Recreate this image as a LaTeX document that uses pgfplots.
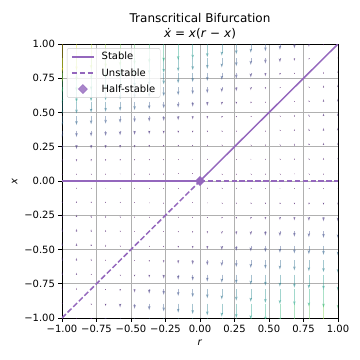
\documentclass[border=0pt]{standalone}
\usepackage{fontspec}
\setmainfont{DejaVu Sans}
\usepackage{pgfplots}
\usepackage{pgfplotstable}
\pgfplotsset{compat=1.18}
\usetikzlibrary{arrows.meta}
\definecolor{tabpurple}{HTML}{9467BD}
\definecolor{gridc}{HTML}{B0B0B0}
\definecolor{legedge}{HTML}{CCCCCC}
\pgfplotsset{
  lineleg/.style={legend image code/.code={\path (-1pt,0pt) (27pt,0pt); \draw[##1] (0pt,0pt) -- (22pt,0pt);}},
  markleg/.style={legend image code/.code={\path (-1pt,0pt) (27pt,0pt); \draw[##1] plot coordinates {(11pt,0pt)};}},
}
% quiver field of xdot = x(r-x) on a 20x20 grid; w is xdot scaled by 361/2
\pgfplotstableread[row sep=\\]{
r xv w\\
-0.895 -1 -19\\ -0.789 -1 -38\\ -0.684 -1 -57\\ -0.579 -1 -76\\ -0.474 -1 -95\\ -0.368 -1 -114\\ -0.263 -1 -133\\ -0.158 -1 -152\\ -0.053 -1 -171\\ 0.053 -1 -190\\ 0.158 -1 -209\\ 0.263 -1 -228\\ 0.368 -1 -247\\ 0.474 -1 -266\\ 0.579 -1 -285\\ 0.684 -1 -304\\ 0.789 -1 -323\\ 0.895 -1 -342\\ 1 -1 -361\\
-1 -0.895 17\\ -0.789 -0.895 -17\\ -0.684 -0.895 -34\\ -0.579 -0.895 -51\\ -0.474 -0.895 -68\\ -0.368 -0.895 -85\\ -0.263 -0.895 -102\\ -0.158 -0.895 -119\\ -0.053 -0.895 -136\\ 0.053 -0.895 -153\\ 0.158 -0.895 -170\\ 0.263 -0.895 -187\\ 0.368 -0.895 -204\\ 0.474 -0.895 -221\\ 0.579 -0.895 -238\\ 0.684 -0.895 -255\\ 0.789 -0.895 -272\\ 0.895 -0.895 -289\\ 1 -0.895 -306\\
-1 -0.789 30\\ -0.895 -0.789 15\\ -0.684 -0.789 -15\\ -0.579 -0.789 -30\\ -0.474 -0.789 -45\\ -0.368 -0.789 -60\\ -0.263 -0.789 -75\\ -0.158 -0.789 -90\\ -0.053 -0.789 -105\\ 0.053 -0.789 -120\\ 0.158 -0.789 -135\\ 0.263 -0.789 -150\\ 0.368 -0.789 -165\\ 0.474 -0.789 -180\\ 0.579 -0.789 -195\\ 0.684 -0.789 -210\\ 0.789 -0.789 -225\\ 0.895 -0.789 -240\\ 1 -0.789 -255\\
-1 -0.684 39\\ -0.895 -0.684 26\\ -0.789 -0.684 13\\ -0.579 -0.684 -13\\ -0.474 -0.684 -26\\ -0.368 -0.684 -39\\ -0.263 -0.684 -52\\ -0.158 -0.684 -65\\ -0.053 -0.684 -78\\ 0.053 -0.684 -91\\ 0.158 -0.684 -104\\ 0.263 -0.684 -117\\ 0.368 -0.684 -130\\ 0.474 -0.684 -143\\ 0.579 -0.684 -156\\ 0.684 -0.684 -169\\ 0.789 -0.684 -182\\ 0.895 -0.684 -195\\ 1 -0.684 -208\\
-1 -0.579 44\\ -0.895 -0.579 33\\ -0.789 -0.579 22\\ -0.684 -0.579 11\\ -0.474 -0.579 -11\\ -0.368 -0.579 -22\\ -0.263 -0.579 -33\\ -0.158 -0.579 -44\\ -0.053 -0.579 -55\\ 0.053 -0.579 -66\\ 0.158 -0.579 -77\\ 0.263 -0.579 -88\\ 0.368 -0.579 -99\\ 0.474 -0.579 -110\\ 0.579 -0.579 -121\\ 0.684 -0.579 -132\\ 0.789 -0.579 -143\\ 0.895 -0.579 -154\\ 1 -0.579 -165\\
-1 -0.474 45\\ -0.895 -0.474 36\\ -0.789 -0.474 27\\ -0.684 -0.474 18\\ -0.579 -0.474 9\\ -0.368 -0.474 -9\\ -0.263 -0.474 -18\\ -0.158 -0.474 -27\\ -0.053 -0.474 -36\\ 0.053 -0.474 -45\\ 0.158 -0.474 -54\\ 0.263 -0.474 -63\\ 0.368 -0.474 -72\\ 0.474 -0.474 -81\\ 0.579 -0.474 -90\\ 0.684 -0.474 -99\\ 0.789 -0.474 -108\\ 0.895 -0.474 -117\\ 1 -0.474 -126\\
-1 -0.368 42\\ -0.895 -0.368 35\\ -0.789 -0.368 28\\ -0.684 -0.368 21\\ -0.579 -0.368 14\\ -0.474 -0.368 7\\ -0.263 -0.368 -7\\ -0.158 -0.368 -14\\ -0.053 -0.368 -21\\ 0.053 -0.368 -28\\ 0.158 -0.368 -35\\ 0.263 -0.368 -42\\ 0.368 -0.368 -49\\ 0.474 -0.368 -56\\ 0.579 -0.368 -63\\ 0.684 -0.368 -70\\ 0.789 -0.368 -77\\ 0.895 -0.368 -84\\ 1 -0.368 -91\\
-1 -0.263 35\\ -0.895 -0.263 30\\ -0.789 -0.263 25\\ -0.684 -0.263 20\\ -0.579 -0.263 15\\ -0.474 -0.263 10\\ -0.368 -0.263 5\\ -0.158 -0.263 -5\\ -0.053 -0.263 -10\\ 0.053 -0.263 -15\\ 0.158 -0.263 -20\\ 0.263 -0.263 -25\\ 0.368 -0.263 -30\\ 0.474 -0.263 -35\\ 0.579 -0.263 -40\\ 0.684 -0.263 -45\\ 0.789 -0.263 -50\\ 0.895 -0.263 -55\\ 1 -0.263 -60\\
-1 -0.158 24\\ -0.895 -0.158 21\\ -0.789 -0.158 18\\ -0.684 -0.158 15\\ -0.579 -0.158 12\\ -0.474 -0.158 9\\ -0.368 -0.158 6\\ -0.263 -0.158 3\\ -0.053 -0.158 -3\\ 0.053 -0.158 -6\\ 0.158 -0.158 -9\\ 0.263 -0.158 -12\\ 0.368 -0.158 -15\\ 0.474 -0.158 -18\\ 0.579 -0.158 -21\\ 0.684 -0.158 -24\\ 0.789 -0.158 -27\\ 0.895 -0.158 -30\\ 1 -0.158 -33\\
-1 -0.053 9\\ -0.895 -0.053 8\\ -0.789 -0.053 7\\ -0.684 -0.053 6\\ -0.579 -0.053 5\\ -0.474 -0.053 4\\ -0.368 -0.053 3\\ -0.263 -0.053 2\\ -0.158 -0.053 1\\ 0.053 -0.053 -1\\ 0.158 -0.053 -2\\ 0.263 -0.053 -3\\ 0.368 -0.053 -4\\ 0.474 -0.053 -5\\ 0.579 -0.053 -6\\ 0.684 -0.053 -7\\ 0.789 -0.053 -8\\ 0.895 -0.053 -9\\ 1 -0.053 -10\\
-1 0.053 -10\\ -0.895 0.053 -9\\ -0.789 0.053 -8\\ -0.684 0.053 -7\\ -0.579 0.053 -6\\ -0.474 0.053 -5\\ -0.368 0.053 -4\\ -0.263 0.053 -3\\ -0.158 0.053 -2\\ -0.053 0.053 -1\\ 0.158 0.053 1\\ 0.263 0.053 2\\ 0.368 0.053 3\\ 0.474 0.053 4\\ 0.579 0.053 5\\ 0.684 0.053 6\\ 0.789 0.053 7\\ 0.895 0.053 8\\ 1 0.053 9\\
-1 0.158 -33\\ -0.895 0.158 -30\\ -0.789 0.158 -27\\ -0.684 0.158 -24\\ -0.579 0.158 -21\\ -0.474 0.158 -18\\ -0.368 0.158 -15\\ -0.263 0.158 -12\\ -0.158 0.158 -9\\ -0.053 0.158 -6\\ 0.053 0.158 -3\\ 0.263 0.158 3\\ 0.368 0.158 6\\ 0.474 0.158 9\\ 0.579 0.158 12\\ 0.684 0.158 15\\ 0.789 0.158 18\\ 0.895 0.158 21\\ 1 0.158 24\\
-1 0.263 -60\\ -0.895 0.263 -55\\ -0.789 0.263 -50\\ -0.684 0.263 -45\\ -0.579 0.263 -40\\ -0.474 0.263 -35\\ -0.368 0.263 -30\\ -0.263 0.263 -25\\ -0.158 0.263 -20\\ -0.053 0.263 -15\\ 0.053 0.263 -10\\ 0.158 0.263 -5\\ 0.368 0.263 5\\ 0.474 0.263 10\\ 0.579 0.263 15\\ 0.684 0.263 20\\ 0.789 0.263 25\\ 0.895 0.263 30\\ 1 0.263 35\\
-1 0.368 -91\\ -0.895 0.368 -84\\ -0.789 0.368 -77\\ -0.684 0.368 -70\\ -0.579 0.368 -63\\ -0.474 0.368 -56\\ -0.368 0.368 -49\\ -0.263 0.368 -42\\ -0.158 0.368 -35\\ -0.053 0.368 -28\\ 0.053 0.368 -21\\ 0.158 0.368 -14\\ 0.263 0.368 -7\\ 0.474 0.368 7\\ 0.579 0.368 14\\ 0.684 0.368 21\\ 0.789 0.368 28\\ 0.895 0.368 35\\ 1 0.368 42\\
-1 0.474 -126\\ -0.895 0.474 -117\\ -0.789 0.474 -108\\ -0.684 0.474 -99\\ -0.579 0.474 -90\\ -0.474 0.474 -81\\ -0.368 0.474 -72\\ -0.263 0.474 -63\\ -0.158 0.474 -54\\ -0.053 0.474 -45\\ 0.053 0.474 -36\\ 0.158 0.474 -27\\ 0.263 0.474 -18\\ 0.368 0.474 -9\\ 0.579 0.474 9\\ 0.684 0.474 18\\ 0.789 0.474 27\\ 0.895 0.474 36\\ 1 0.474 45\\
-1 0.579 -165\\ -0.895 0.579 -154\\ -0.789 0.579 -143\\ -0.684 0.579 -132\\ -0.579 0.579 -121\\ -0.474 0.579 -110\\ -0.368 0.579 -99\\ -0.263 0.579 -88\\ -0.158 0.579 -77\\ -0.053 0.579 -66\\ 0.053 0.579 -55\\ 0.158 0.579 -44\\ 0.263 0.579 -33\\ 0.368 0.579 -22\\ 0.474 0.579 -11\\ 0.684 0.579 11\\ 0.789 0.579 22\\ 0.895 0.579 33\\ 1 0.579 44\\
-1 0.684 -208\\ -0.895 0.684 -195\\ -0.789 0.684 -182\\ -0.684 0.684 -169\\ -0.579 0.684 -156\\ -0.474 0.684 -143\\ -0.368 0.684 -130\\ -0.263 0.684 -117\\ -0.158 0.684 -104\\ -0.053 0.684 -91\\ 0.053 0.684 -78\\ 0.158 0.684 -65\\ 0.263 0.684 -52\\ 0.368 0.684 -39\\ 0.474 0.684 -26\\ 0.579 0.684 -13\\ 0.789 0.684 13\\ 0.895 0.684 26\\ 1 0.684 39\\
-1 0.789 -255\\ -0.895 0.789 -240\\ -0.789 0.789 -225\\ -0.684 0.789 -210\\ -0.579 0.789 -195\\ -0.474 0.789 -180\\ -0.368 0.789 -165\\ -0.263 0.789 -150\\ -0.158 0.789 -135\\ -0.053 0.789 -120\\ 0.053 0.789 -105\\ 0.158 0.789 -90\\ 0.263 0.789 -75\\ 0.368 0.789 -60\\ 0.474 0.789 -45\\ 0.579 0.789 -30\\ 0.684 0.789 -15\\ 0.895 0.789 15\\ 1 0.789 30\\
-1 0.895 -306\\ -0.895 0.895 -289\\ -0.789 0.895 -272\\ -0.684 0.895 -255\\ -0.579 0.895 -238\\ -0.474 0.895 -221\\ -0.368 0.895 -204\\ -0.263 0.895 -187\\ -0.158 0.895 -170\\ -0.053 0.895 -153\\ 0.053 0.895 -136\\ 0.158 0.895 -119\\ 0.263 0.895 -102\\ 0.368 0.895 -85\\ 0.474 0.895 -68\\ 0.579 0.895 -51\\ 0.684 0.895 -34\\ 0.789 0.895 -17\\ 1 0.895 17\\
-1 1 -361\\ -0.895 1 -342\\ -0.789 1 -323\\ -0.684 1 -304\\ -0.579 1 -285\\ -0.474 1 -266\\ -0.368 1 -247\\ -0.263 1 -228\\ -0.158 1 -209\\ -0.053 1 -190\\ 0.053 1 -171\\ 0.158 1 -152\\ 0.263 1 -133\\ 0.368 1 -114\\ 0.474 1 -95\\ 0.579 1 -76\\ 0.684 1 -57\\ 0.789 1 -38\\ 0.895 1 -19\\
}\quiverdata
\begin{document}
\begin{tikzpicture}
\useasboundingbox (-62pt,-42pt) rectangle (298pt,318pt);
\begin{axis}[
  at={(0pt,0pt)}, anchor=south west,
  scale only axis, width=276pt, height=274pt,
  xmin=-1, xmax=1, ymin=-1, ymax=1,
  xtick={-1,-0.75,-0.5,-0.25,0,0.25,0.5,0.75,1},
  ytick={-1,-0.75,-0.5,-0.25,0,0.25,0.5,0.75,1},
  xticklabels={−1.00,−0.75,−0.50,−0.25,0.00,0.25,0.50,0.75,1.00},
  yticklabels={−1.00,−0.75,−0.50,−0.25,0.00,0.25,0.50,0.75,1.00},
  tick align=outside, tick pos=left, major tick length=3.5pt,
  every tick/.style={black, line width=0.8pt},
  axis line style={line width=0.8pt},
  grid=major, grid style={gridc, line width=0.8pt},
  xlabel={\textit{r}}, ylabel={\textit{x}},
  title={Transcritical Bifurcation\\\textit{ẋ} = \textit{x}(\textit{r} − \textit{x})},
  title style={align=center, font=\fontsize{12}{15}\selectfont, yshift=-5pt},
  colormap/viridis, point meta min=0, point meta max=361,
  legend style={at={(0.018,0.985)}, anchor=north west, draw=legedge, fill=white,
    fill opacity=0.8, text opacity=1, rounded corners=2pt, row sep=3pt,
    font=\fontsize{10}{12}\selectfont},
  legend cell align=left,
]
\addplot[forget plot,
  point meta={abs(\thisrow{w})},
  quiver={u=0, v=\thisrow{w}, scale arrows=0.000565, colored=mapped color,
    every arrow/.append style={-{Stealth[length=4pt, width=2.6pt, inset=0.6pt,
        scale={min(1,max(0.15,\pgfplotspointmetatransformed/150))}]},
      line width=0.55pt, opacity=0.42}},
] table[x=r, y=xv] {\quiverdata};
\addplot[tabpurple, line width=1.5pt, no markers, lineleg]
  coordinates {(-1,0) (0,0)};
\addlegendentry{Stable}
\addplot[tabpurple, line width=1.5pt, no markers, forget plot]
  coordinates {(0,0) (1,1)};
\addplot[tabpurple, line width=1.5pt, no markers, dash pattern=on 5.5pt off 2.4pt, lineleg]
  coordinates {(-1,-1) (0,0)};
\addlegendentry{Unstable}
\addplot[tabpurple, line width=1.5pt, no markers, dash pattern=on 5.5pt off 2.4pt, forget plot]
  coordinates {(0,0) (1,0)};
\addplot[only marks, mark=square*, mark size=3.2pt, mark options={rotate=45, fill=tabpurple, draw=tabpurple}, markleg]
  coordinates {(0,0)};
\addlegendentry{Half-stable}
\end{axis}
\end{tikzpicture}
\end{document}
